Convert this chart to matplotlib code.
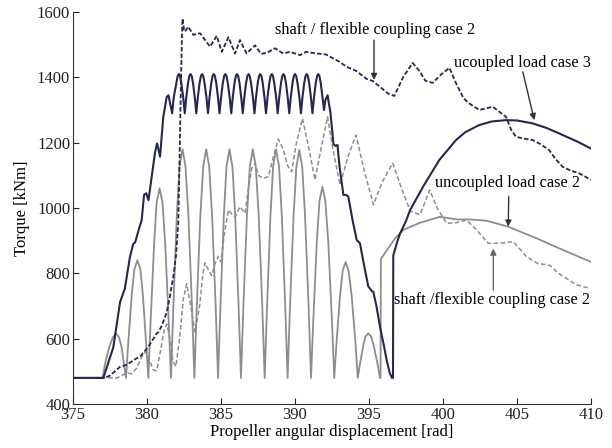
import matplotlib.pyplot as plt

plt.rcParams['font.family'] = ['Liberation Serif', 'DejaVu Serif']

# uncoupled load case 3 (dark solid)
case3_x = [375, 377.05, 377.72, 378.18, 378.5, 378.85, 379.07, 379.2, 379.45, 379.64, 379.8, 379.95, 380.1,
           380.32, 380.54, 380.68, 380.88, 381.1, 381.33, 381.45, 381.7,
           381.8, 381.98, 382.07, 382.15, 382.23, 382.32, 382.45, 382.55,
           382.65, 382.77, 382.86, 382.94, 383.02, 383.11, 383.23, 383.33,
           383.43, 383.55, 383.64, 383.72, 383.8, 383.89, 384.02, 384.12,
           384.22, 384.34, 384.43, 384.51, 384.59, 384.68, 384.8, 384.9,
           385.0, 385.12, 385.21, 385.29, 385.37, 385.46, 385.59, 385.69,
           385.79, 385.91, 386.0, 386.08, 386.16, 386.25, 386.37, 386.47,
           386.57, 386.69, 386.78, 386.86, 386.94, 387.03, 387.16, 387.26,
           387.36, 387.48, 387.57, 387.65, 387.73, 387.82, 387.94, 388.04,
           388.14, 388.26, 388.35, 388.43, 388.51, 388.6, 388.73, 388.83,
           388.93, 389.05, 389.14, 389.22, 389.3, 389.39, 389.51, 389.61,
           389.71, 389.83, 389.92, 390.0, 390.08, 390.17, 390.3, 390.4,
           390.5, 390.62, 390.71, 390.79, 390.87, 390.96, 391.08, 391.18,
           391.28, 391.4, 391.49, 391.57, 391.65, 391.74, 391.86, 391.96,
           392.05, 392.2, 392.4, 392.6, 392.75, 392.87, 393.0, 393.27, 393.45, 393.6, 393.9, 394.17,
           394.39, 394.6, 394.95, 395.2, 395.29, 395.5, 395.74, 396.0, 396.19, 396.4, 396.55, 396.62,
           396.64, 396.93, 397.1, 397.5, 397.77, 398.65, 399.75, 400.88, 401.5, 402.45, 403.3, 404.26,
           405.0, 406.06, 407.0, 407.86, 409.0, 410.0]
case3_y = [480, 480, 573, 712, 753, 851, 890, 895, 935, 963, 1040, 1045, 1024,
           1096, 1170, 1198, 1157, 1279, 1340, 1345, 1290,
           1337, 1382, 1404, 1410, 1404, 1382, 1337, 1290,
           1337, 1382, 1404, 1410, 1404, 1382, 1337, 1290,
           1337, 1382, 1404, 1410, 1404, 1382, 1337, 1290,
           1337, 1382, 1404, 1410, 1404, 1382, 1337, 1290,
           1337, 1382, 1404, 1410, 1404, 1382, 1337, 1290,
           1337, 1382, 1404, 1410, 1404, 1382, 1337, 1290,
           1337, 1382, 1404, 1410, 1404, 1382, 1337, 1290,
           1337, 1382, 1404, 1410, 1404, 1382, 1337, 1290,
           1337, 1382, 1404, 1410, 1404, 1382, 1337, 1290,
           1337, 1382, 1404, 1410, 1404, 1382, 1337, 1290,
           1337, 1382, 1404, 1410, 1404, 1382, 1337, 1290,
           1337, 1382, 1404, 1410, 1404, 1382, 1337, 1290,
           1337, 1382, 1404, 1410, 1404, 1382, 1337, 1300,
           1330, 1345, 1290, 1195, 1190, 1193, 1130, 1040, 1040, 1035, 960, 902,
           892, 840, 760, 745, 744, 700, 637, 580, 535, 495, 480, 480,
           855, 900, 922, 960, 993, 1065, 1147, 1208, 1232, 1254, 1265, 1269,
           1268, 1259, 1245, 1228, 1205, 1182]

# uncoupled load case 2 (grey solid)
case2_x = [375, 377.0,
           377.16, 377.45, 377.7, 377.9, 378.1, 378.28, 378.44, 378.58,
           378.74, 378.97, 379.15, 379.35, 379.55, 379.72, 379.93, 380.09,
           380.25, 380.48, 380.65, 380.85, 381.05, 381.23, 381.46, 381.62,
           381.78, 382.01, 382.2, 382.4, 382.6, 382.8, 383.04, 383.2,
           383.36, 383.6, 383.8, 384.0, 384.2, 384.4, 384.64, 384.8,
           384.96, 385.19, 385.37, 385.57, 385.77, 385.96, 386.19, 386.35,
           386.51, 386.75, 386.95, 387.15, 387.35, 387.55, 387.79, 387.95,
           388.11, 388.34, 388.52, 388.72, 388.92, 389.11, 389.34, 389.5,
           389.66, 389.9, 390.09, 390.29, 390.49, 390.68, 390.92, 391.08,
           391.24, 391.47, 391.65, 391.85, 392.05, 392.25, 392.49, 392.65,
           392.81, 393.04, 393.22, 393.42, 393.62, 393.83, 394.08, 394.24,
           394.39, 394.6, 394.75, 394.95, 395.15, 395.33, 395.58, 395.74,
           395.78, 395.8, 396.76, 397.32, 398.45, 399.8, 400.93, 401.82, 402.95, 404.4,
           406.33, 408.13, 410.0]
case2_y = [480, 480,
           522, 575, 605, 615, 605, 575, 522, 480,
           592, 735, 813, 840, 813, 735, 592, 480,
           660, 890, 1016, 1060, 1016, 890, 660, 480,
           697, 975, 1127, 1180, 1127, 975, 697, 480,
           697, 975, 1127, 1180, 1127, 975, 697, 480,
           697, 975, 1127, 1180, 1127, 975, 697, 480,
           697, 975, 1127, 1180, 1127, 975, 697, 480,
           697, 975, 1127, 1180, 1127, 975, 697, 480,
           697, 975, 1125, 1178, 1125, 975, 697, 480,
           661, 894, 1021, 1065, 1021, 894, 661, 480,
           590, 731, 808, 835, 808, 731, 590, 480,
           522, 576, 606, 616, 606, 576, 522, 480,
           480, 844, 907, 933, 955, 973, 965, 965, 961, 943,
           907, 871, 835]

# shaft / flexible coupling case 2, upper (dark dashed)
shaft_up_x = [375, 377.1, 377.5, 378.18, 378.62, 379.3, 379.53, 380.09, 380.65, 380.77, 381.0, 381.33,
              381.55, 381.78, 381.95, 382.11, 382.2, 382.3, 382.38, 382.41, 382.5, 382.57, 382.79, 383.13,
              383.58, 384.26, 384.71, 385.05, 385.5, 385.95, 386.28, 386.73, 387.3, 387.7, 388.09, 388.65,
              389.2, 389.66, 390.34, 390.74, 391.46, 392.09, 392.5, 392.99, 393.5, 394.12, 394.84, 395.25,
              395.9, 396.3, 396.71, 397.3, 397.95, 398.4, 398.8, 399.3, 399.9, 400.43, 400.9, 401.4,
              401.78, 402.45, 403.36, 403.8, 404.26, 404.6, 404.93, 405.5, 406.06, 406.6, 407.18, 407.6,
              408.09, 408.6, 409.21, 410.0]
shaft_up_y = [480, 480, 487, 514, 520, 540, 545, 575, 616, 620, 640, 680,
              730, 790, 850, 951, 1150, 1400, 1560, 1580, 1545, 1540, 1555, 1530,
              1535, 1494, 1527, 1478, 1523, 1473, 1514, 1473, 1498, 1472, 1475, 1489,
              1473, 1478, 1468, 1478, 1473, 1470, 1460, 1448, 1432, 1420, 1395, 1389,
              1365, 1350, 1343, 1400, 1444, 1420, 1390, 1383, 1410, 1429, 1380, 1335,
              1320, 1300, 1310, 1295, 1279, 1240, 1218, 1212, 1208, 1195, 1177, 1150,
              1126, 1115, 1106, 1086]

# shaft / flexible coupling case 2, lower (grey dashed)
shaft_lo_x = [375, 378.0, 378.4, 378.7, 378.96, 379.3, 379.75, 379.97, 380.2, 380.43, 380.65, 380.9,
              381.15, 381.33, 381.55, 381.75, 381.95, 382.2, 382.45, 382.68, 382.95, 383.24, 383.55, 383.78,
              383.92, 384.15, 384.37, 384.6, 384.82, 385.0, 385.25, 385.5, 385.75, 385.95, 386.28, 386.62,
              386.85, 387.07, 387.3, 387.52, 387.86, 388.2, 388.5, 388.87, 389.2, 389.5, 389.77, 390.1,
              390.5, 390.95, 391.35, 391.75, 392.2, 392.6, 393.04, 393.6, 394.12, 394.7, 395.3, 395.9,
              396.6, 397.2, 397.8, 398.45, 399.1, 399.6, 400.25, 400.9, 401.6, 402.27, 403.06, 403.5,
              404.0, 404.75, 405.65, 406.4, 407.2, 407.8, 408.35, 409.0, 409.93]
shaft_lo_y = [480, 480, 490, 495, 492, 510, 553, 560, 530, 504, 502, 560,
              625, 645, 600, 530, 515, 600, 720, 768, 700, 620, 700, 800,
              832, 810, 793, 830, 852, 835, 930, 994, 980, 973, 1004, 984,
              1060, 1120, 1137, 1100, 1091, 1096, 1150, 1211, 1180, 1130, 1111, 1200,
              1274, 1180, 1086, 1180, 1279, 1170, 1071, 1160, 1223, 1110, 1010, 1080,
              1137, 1060, 990, 980, 1055, 1000, 953, 955, 963, 933, 892, 892,
              893, 897, 851, 830, 825, 800, 784, 765, 754]

x_ticks = [375, 380, 385, 390, 395, 400, 405, 410]
y_ticks = [400, 600, 800, 1000, 1200, 1400, 1600]

navy = '#23284f'
grey = '#8d8d8d'

fig = plt.figure(figsize=(6.12, 4.48), dpi=100)
ax = fig.add_axes([0.1193, 0.0982, 0.8464, 0.875])

ax.plot(case2_x, case2_y, color=grey, lw=1.3)
ax.plot(shaft_lo_x, shaft_lo_y, color=grey, lw=1.1, dashes=(3, 1.6))
ax.plot(shaft_up_x, shaft_up_y, color=navy, lw=1.3, dashes=(2.5, 1.2))
ax.plot(case3_x, case3_y, color=navy, lw=1.5)

ax.set_xlim(375, 410)
ax.set_ylim(400, 1600)
ax.set_xticks(x_ticks)
ax.set_yticks(y_ticks)
ax.tick_params(direction='in', length=4, labelsize=12, colors='#222222', pad=2)
for side in ['top', 'right']:
    ax.spines[side].set_visible(False)
for side in ['left', 'bottom']:
    ax.spines[side].set_color('#333333')

ax.set_xlabel('Propeller angular displacement [rad]', fontsize=12, labelpad=1)
ax.set_ylabel('Torque [kNm]', fontsize=12, labelpad=5)

arrow = dict(arrowstyle='-|>', color='#333333', lw=1.0, mutation_scale=9, shrinkA=0, shrinkB=0)
arrow_g = dict(arrowstyle='-|>', color='#666666', lw=1.0, mutation_scale=9, shrinkA=0, shrinkB=0)

ax.text(395.4, 1545, 'shaft / flexible coupling case 2', ha='center', va='center', fontsize=11.7)
ax.annotate('', xy=(395.34, 1392), xytext=(395.34, 1514), arrowprops=arrow)

ax.text(405.4, 1444, 'ucoupled load case 3', ha='center', va='center', fontsize=11.7)
ax.annotate('', xy=(406.17, 1269), xytext=(405.39, 1417), arrowprops=arrow)

ax.text(404.39, 1076, 'uncoupled load case 2', ha='center', va='center', fontsize=11.7)
ax.annotate('', xy=(404.41, 943), xytext=(404.44, 1035), arrowprops=arrow)

ax.text(403.3, 718, 'shaft /flexible coupling case 2', ha='center', va='center', fontsize=11.7)
ax.annotate('', xy=(403.4, 876), xytext=(403.4, 749), arrowprops=arrow_g)

fig.savefig('out.png', dpi=100)
